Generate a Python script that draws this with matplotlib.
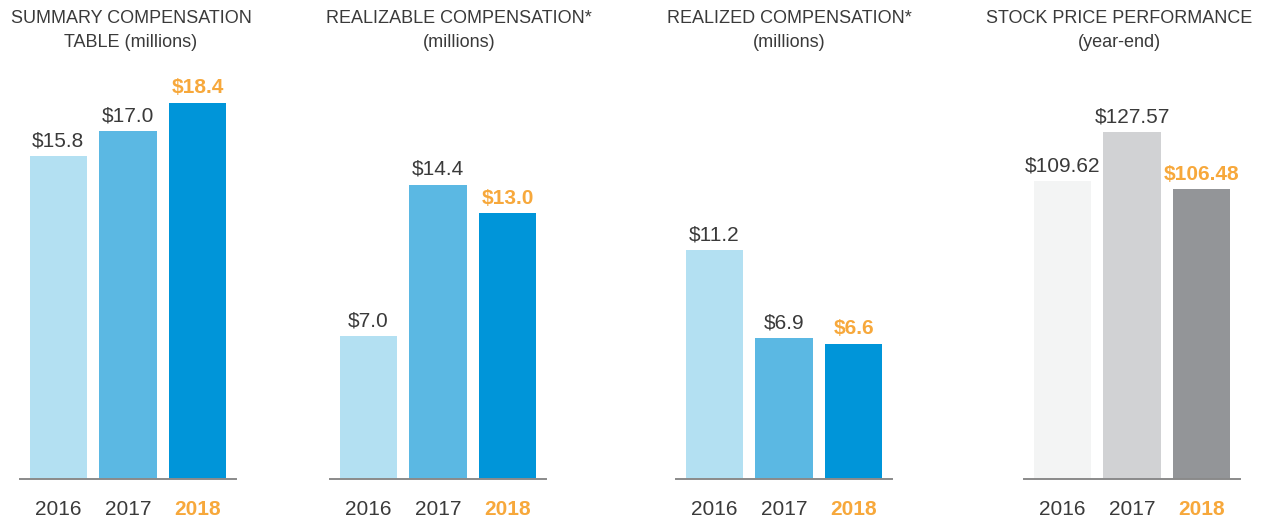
import numpy as np
import matplotlib.pyplot as plt

plt.rcParams['font.family'] = ['Liberation Sans', 'DejaVu Sans']

# data ===============================
years = ['2016', '2017', '2018']
summary_comp = [15.8, 17.0, 18.4]
realizable_comp = [7.0, 14.4, 13.0]
realized_comp = [11.2, 6.9, 6.6]
stock_price = [109.62, 127.57, 106.48]

titles = ['SUMMARY COMPENSATION\nTABLE (millions)',
          'REALIZABLE COMPENSATION*\n(millions)',
          'REALIZED COMPENSATION*\n(millions)',
          'STOCK PRICE PERFORMANCE\n(year-end)']

blues = ['#b3e0f2', '#5bb8e3', '#0095d9']
grays = ['#f3f4f4', '#d1d2d4', '#939598']
orange = '#f7a83b'
text_col = '#3a3a3a'

W, H = 1264, 523
fig = plt.figure(figsize=(W / 100, H / 100), dpi=100)

# panel layout in pixels: left edge of axes, title centre
lefts = [20, 330, 676, 1024]
title_x = [131, 459, 789, 1119]
ax_w = 216
base_y = 479
top_y = 60

panels = [(summary_comp, blues, '${:.1f}', 20.49),
          (realizable_comp, blues, '${:.1f}', 20.49),
          (realized_comp, blues, '${:.1f}', 20.49),
          (stock_price, grays, '${:.2f}', 154.0)]

x = np.arange(len(years))
for i, (vals, cols, fmt, ytop) in enumerate(panels):
    ax = fig.add_axes([lefts[i] / W, (H - base_y) / H, ax_w / W, (base_y - top_y) / H])
    ax.bar(x, vals, width=0.82, color=cols, zorder=2)
    ax.set_xlim(-0.55, 2.55)
    ax.set_ylim(0, ytop)
    for s in ['top', 'right', 'left']:
        ax.spines[s].set_visible(False)
    ax.spines['bottom'].set_color('#8a8a8a')
    ax.spines['bottom'].set_linewidth(1.4)
    ax.set_yticks([])
    ax.set_xticks(x)
    ax.set_xticklabels(years, fontsize=15, color=text_col)
    ax.tick_params(axis='x', length=0, pad=15)
    lab = ax.get_xticklabels()[-1]
    lab.set_color(orange)
    lab.set_fontweight('bold')
    for j, v in enumerate(vals):
        last = j == len(vals) - 1
        ax.annotate(fmt.format(v), (x[j], v), xytext=(0, 4), textcoords='offset points',
                    ha='center', va='bottom', fontsize=15,
                    color=orange if last else text_col,
                    fontweight='bold' if last else 'normal')
    fig.text(title_x[i] / W, 1 - 30.5 / H, titles[i], ha='center', va='center',
             fontsize=13, color=text_col, linespacing=1.55)

plt.savefig('out.png', dpi=100)
